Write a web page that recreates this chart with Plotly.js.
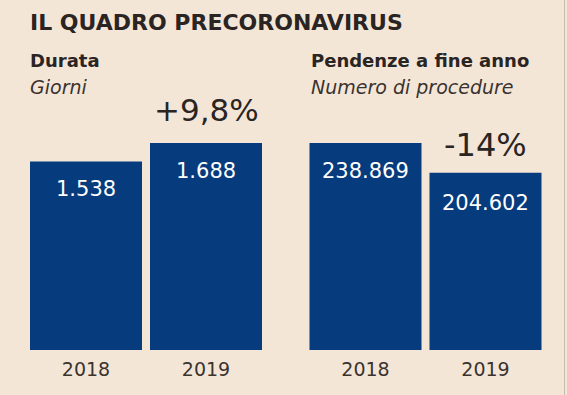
<!DOCTYPE html>
<html>
<head>
<meta charset="utf-8">
<script src="https://cdn.plot.ly/plotly-3.0.1.min.js"></script>
<style>
html,body{margin:0;padding:0;background:#f4e6d7;}
#chart{width:567px;height:395px;}
</style>
</head>
<body>
<div id="chart"></div>
<script>
// ---- data ----
const years = ['2018', '2019'];
const durataValues = [1538, 1688];
const durataLabels = ['1.538', '1.688'];
const pendenzeValues = [238869, 204602];
const pendenzeLabels = ['238.869', '204.602'];
const changeLabels = ['+9,8%', '-14%'];
const mainTitle = 'IL QUADRO PRECORONAVIRUS';
const panelTitles = ['Durata', 'Pendenze a fine anno'];
const panelSubtitles = ['Giorni', 'Numero di procedure'];

// ---- style ----
const W = 567, H = 395;
const BG = '#f4e6d7';
const BAR = '#063b7d';
const DARK = '#2a2422';
const FONT = '"DejaVu Sans", Inter, sans-serif';
const plotTop = 143, plotBottom = 350;
const ph = plotBottom - plotTop;
const py = p => (plotBottom - p) / ph;   // pixel row -> paper y
const px = p => p / W;                   // pixel col -> paper x

const traces = [
  {type: 'bar', x: years, y: durataValues, xaxis: 'x', yaxis: 'y',
   marker: {color: BAR}, hoverinfo: 'skip'},
  {type: 'bar', x: years, y: pendenzeValues, xaxis: 'x2', yaxis: 'y2',
   marker: {color: BAR}, hoverinfo: 'skip'}
];

const annotations = [];
// category index i on the category axis
durataLabels.forEach((t, i) => annotations.push({
  xref: 'x', yref: 'y', x: i, y: durataValues[i], yshift: -28,
  text: t, showarrow: false, yanchor: 'middle', xanchor: 'center',
  font: {family: FONT, size: 21, color: '#ffffff'}
}));
pendenzeLabels.forEach((t, i) => annotations.push({
  xref: 'x2', yref: 'y2', x: i, y: pendenzeValues[i], yshift: i === 0 ? -28 : -30,
  text: t, showarrow: false, yanchor: 'middle', xanchor: 'center',
  font: {family: FONT, size: 21, color: '#ffffff'}
}));
annotations.push({
  xref: 'x', yref: 'y', x: 1, y: durataValues[1], yshift: 33,
  text: changeLabels[0], showarrow: false, yanchor: 'middle',
  font: {family: FONT, size: 31, color: DARK}
});
annotations.push({
  xref: 'x2', yref: 'y2', x: 1, y: pendenzeValues[1], yshift: 28,
  text: changeLabels[1], showarrow: false, yanchor: 'middle',
  font: {family: FONT, size: 32, color: DARK}
});
annotations.push({
  xref: 'paper', yref: 'paper', x: px(28), y: py(22), xanchor: 'left', yanchor: 'middle',
  text: '<b>' + mainTitle + '</b>', showarrow: false,
  font: {family: FONT, size: 22, color: DARK}
});
[28, 309].forEach((xx, i) => {
  annotations.push({
    xref: 'paper', yref: 'paper', x: px(xx), y: py(60), xanchor: 'left', yanchor: 'middle',
    text: '<b>' + panelTitles[i] + '</b>', showarrow: false,
    font: {family: FONT, size: 18, color: DARK}
  });
  annotations.push({
    xref: 'paper', yref: 'paper', x: px(xx), y: py(87), xanchor: 'left', yanchor: 'middle',
    text: '<i>' + panelSubtitles[i] + '</i>', showarrow: false,
    font: {family: FONT, size: 19, color: '#3a3330'}
  });
});

function xax(dom, anchor) {
  return {
    type: 'category', domain: dom, anchor: anchor, range: [-0.5, 1.5], autorange: false,
    showgrid: false, zeroline: false, showline: false, ticks: '', ticklabelstandoff: 6,
    tickfont: {family: FONT, size: 19, color: '#3a3330'}, fixedrange: true
  };
}
function yax(maxv, anchor) {
  return {
    range: [0, maxv], autorange: false, anchor: anchor,
    showgrid: false, zeroline: false, showline: false, showticklabels: false,
    ticks: '', fixedrange: true
  };
}

const layout = {
  width: W, height: H,
  paper_bgcolor: BG, plot_bgcolor: BG,
  margin: {l: 0, r: 0, t: plotTop, b: H - plotBottom, pad: 0},
  showlegend: false,
  bargap: 8 / 120,
  xaxis: xax([px(26), px(266)], 'y'),
  yaxis: yax(Math.max(...durataValues), 'x'),
  xaxis2: xax([px(305.5), px(545.5)], 'y2'),
  yaxis2: yax(Math.max(...pendenzeValues), 'x2'),
  annotations: annotations,
  shapes: [{type: 'line', xref: 'paper', yref: 'paper', x0: px(564.5), x1: px(564.5),
            y0: py(0), y1: py(H), line: {color: '#c8bcae', width: 1}}]
};

Plotly.newPlot('chart', traces, layout, {staticPlot: true, displayModeBar: false});
</script>
</body>
</html>
